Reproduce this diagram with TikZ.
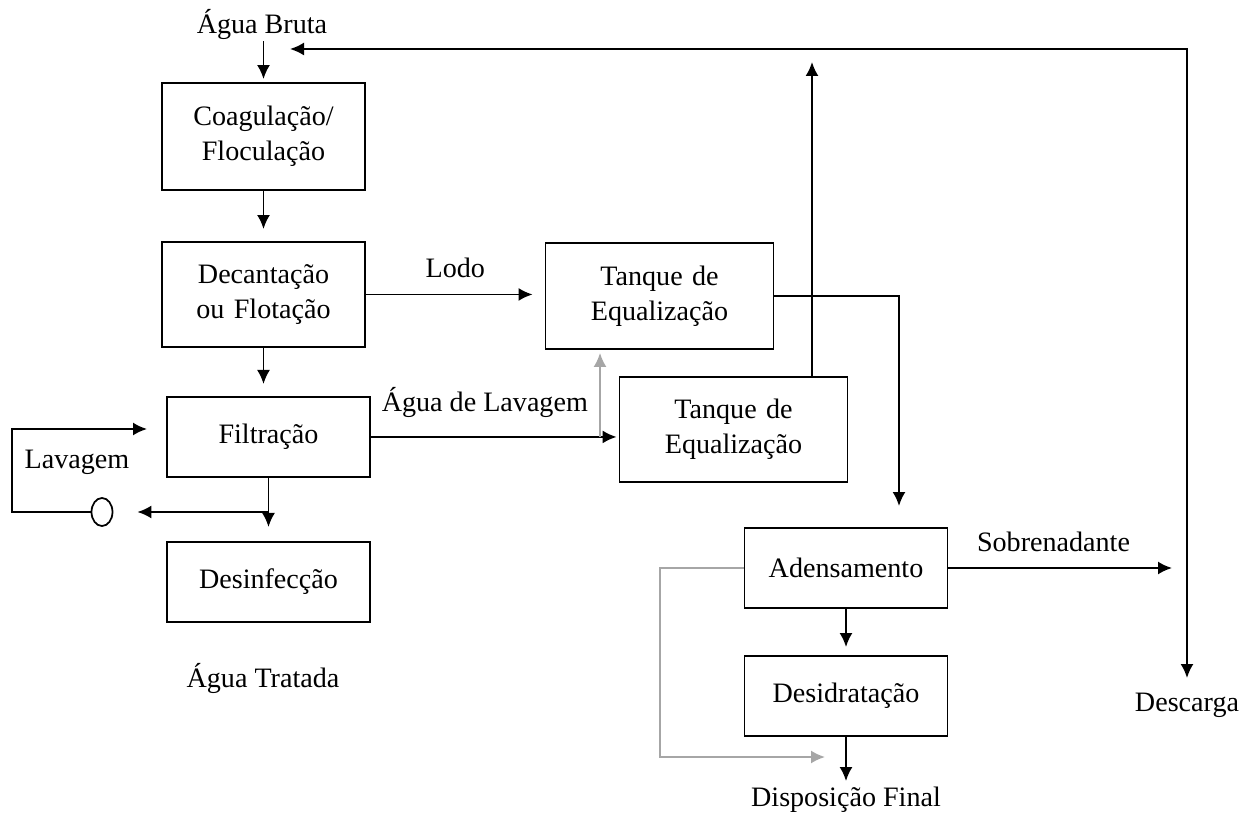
\documentclass[tikz,border=0pt]{standalone}
\usepackage{fontspec}
\setmainfont{Liberation Serif}
\usetikzlibrary{shapes,arrows.meta,positioning}

\begin{document}
\begin{tikzpicture}[x=0.02cm,y=-0.02cm,>={Latex[length=2.8mm,width=2.6mm]},node distance=3cm,font=\fontsize{16}{20}\selectfont]
        % Define block styles
        \tikzstyle{block} = [rectangle, draw, line width=1.1pt, text width=3.6cm, inner sep=0.23cm, text centered, minimum height=1.6cm]
        \tikzstyle{tanque} = [block, text width=4.1cm, minimum height=2.1cm]
        \tikzstyle{line} = [draw, line width=1.1pt, ->]
        \tikzstyle{cinza} = [draw, line width=1.1pt, ->, gray!70]
        \tikzstyle{texto} = [inner sep=1pt]

        \useasboundingbox (0,0) rectangle (1251,814);

        % Nodes
        \node [block, minimum height=2.14cm] (coag) at (263.5,136.5) {Coagulação/\\Floculação};
        \node [block, below of=coag, node distance=3.16cm, minimum height=2.1cm] (decant) {Decantação\\ou Flotação};
        \node [block, below of=decant, node distance=2.85cm, xshift=0.1cm] (filtr) {Filtração};
        \node [block, below of=filtr, node distance=2.9cm] (desinf) {Desinfecção};
        \node [tanque, minimum height=2.12cm] (tanque1) at (659.5,296) {Tanque de\\Equalização};
        \node [tanque] (tanque2) at (733.5,429.5) {Tanque de\\Equalização};
        \node [block] (adens) at (846,568) {Adensamento};
        \node [block, below of=adens, node distance=2.56cm] (desid) {Desidratação};
        \node [ellipse, draw, line width=1pt, minimum width=0.42cm, minimum height=0.56cm, inner sep=0pt] (bomba) at (102,512) {};

        % Texts
        \node [texto] (bruta) at (262,24) {Água Bruta};
        \node [texto] (tratada) at (263,678) {Água Tratada};
        \node (final) at (846,800) {Disposição Final};
        \node [texto] (descarga) at (1187,705) {Descarga};
        \node [texto] (lavagem) at (77,462) {Lavagem};

        % Corners and free ends
        \coordinate (topo) at (290,49);
        \coordinate (desc) at (1187,678);
        \coordinate (retorno) at (812,62);
        \coordinate (adin) at (899,506);
        \coordinate (sobre) at (1172,568);
        \coordinate (deriv) at (268.5,512);
        \coordinate (lavcanto) at (12,512);
        \coordinate (lavfim) at (147,429);
        \coordinate (lavagua) at (600,437);
        \coordinate (cinzacanto) at (660,757);
        \coordinate (cinzafim) at (825,757);

        % Arrows
        \path [line, shorten >=0.06cm] (bruta.south -| coag.north) -- (coag.north);
        \path [line, shorten >=0.24cm] (coag) -- (decant);
        \path [line, shorten >=0.24cm] (decant.south) -- (decant.south |- filtr.north);
        \path [line, shorten >=0.28cm] (filtr) -- (desinf);
        \path [line, shorten >=0.24cm] (decant.east) -- (decant.east -| tanque1.west) node [midway, yshift=0.54cm] {Lodo};
        \path [line, shorten >=0.04cm] (filtr.east) -- (filtr.east -| tanque2.west) node [pos=0.46, yshift=0.68cm] {Água de Lavagem};
        \path [cinza, shorten >=0.06cm] (lavagua) -- (lavagua |- tanque1.south);
        \path [line] (tanque1.east) -| (adin);
        \path [line] (retorno |- tanque2.north) -- (retorno);
        \path [line] (adens.east) -- (sobre) node [pos=0.47, yshift=0.52cm] {Sobrenadante};
        \path [line, <->] (topo) -| (desc);
        \path [line, shorten >=0.16cm] (adens.south) -- (adens.south |- desid.north);
        \path [line] (desid.south) -- (desid.south |- final.north);
        \path [line, shorten >=0.48cm] (deriv) -- (bomba);
        \path [line] (bomba.west) -- (lavcanto) |- (lavfim);
        \path [cinza] (adens.west) -| (cinzacanto) -- (cinzafim);

    \end{tikzpicture}
\end{document}
